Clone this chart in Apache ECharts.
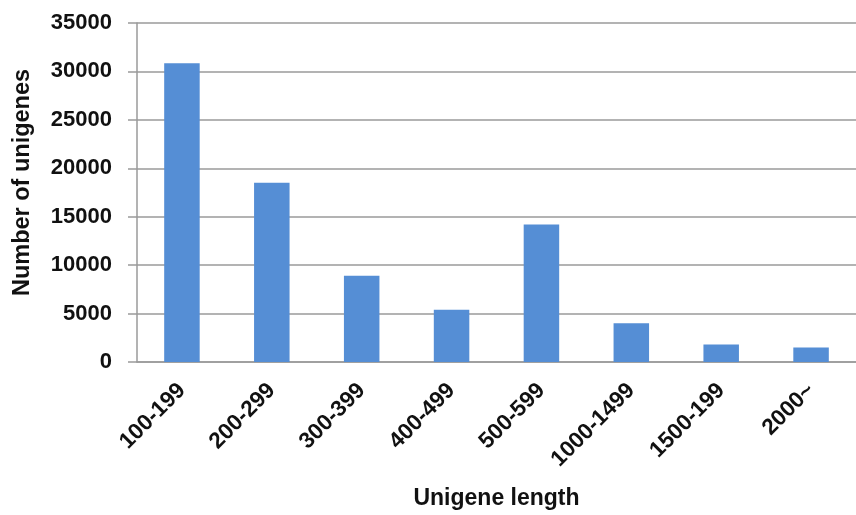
<!DOCTYPE html>
<html>
<head>
<meta charset="utf-8">
<script src="https://cdn.jsdelivr.net/npm/echarts@6/dist/echarts.min.js"></script>
<style>
html,body{margin:0;padding:0;background:#fff;}
#chart{width:856px;height:515px;}
</style>
</head>
<body>
<div id="chart"></div>
<script>
const categories = ['100-199','200-299','300-399','400-499','500-599','1000-1499','1500-199','2000~'];
const unigeneCounts = [30850, 18500, 8900, 5400, 14200, 4000, 1800, 1500];
const yTicks = [0, 5000, 10000, 15000, 20000, 25000, 30000, 35000];

const font = 'Liberation Sans, Arial, sans-serif';
const chart = echarts.init(document.getElementById('chart'));
chart.setOption({
  animation: false,
  backgroundColor: '#ffffff',
  grid: { left: 137, right: -11, top: 23, bottom: 150, containLabel: false },
  xAxis: {
    type: 'category',
    data: categories,
    name: 'Unigene length',
    nameLocation: 'middle',
    nameGap: 125,
    nameTextStyle: { fontFamily: font, fontWeight: 'bold', fontSize: 23, color: '#111' },
    axisLine: { lineStyle: { color: '#9a9a9a', width: 1.5 } },
    axisTick: { show: false },
    axisLabel: { rotate: 45, margin: 25, interval: 0, fontFamily: font, fontWeight: 'bold', fontSize: 22.5, color: '#111' }
  },
  yAxis: {
    type: 'value',
    min: yTicks[0],
    max: yTicks[yTicks.length - 1],
    interval: 5000,
    name: 'Number of unigenes',
    nameLocation: 'middle',
    nameGap: 102,
    nameTextStyle: { fontFamily: font, fontWeight: 'bold', fontSize: 23.5, color: '#111', padding: [0, 0, 0, 20] },
    axisLine: { show: true, lineStyle: { color: '#9a9a9a', width: 1.5 } },
    axisTick: { show: true, length: 9, lineStyle: { color: '#9a9a9a', width: 1.5 } },
    axisLabel: {
      margin: 25, fontFamily: font, fontWeight: 'bold', fontSize: 22, color: '#111',
      formatter: function (v) { return String(v); }
    },
    splitLine: { show: true, lineStyle: { color: '#9a9a9a', width: 1.5 } }
  },
  series: [{
    type: 'bar',
    data: unigeneCounts,
    barWidth: '39.5%',
    itemStyle: { color: '#558ed5' }
  }]
});
</script>
</body>
</html>
